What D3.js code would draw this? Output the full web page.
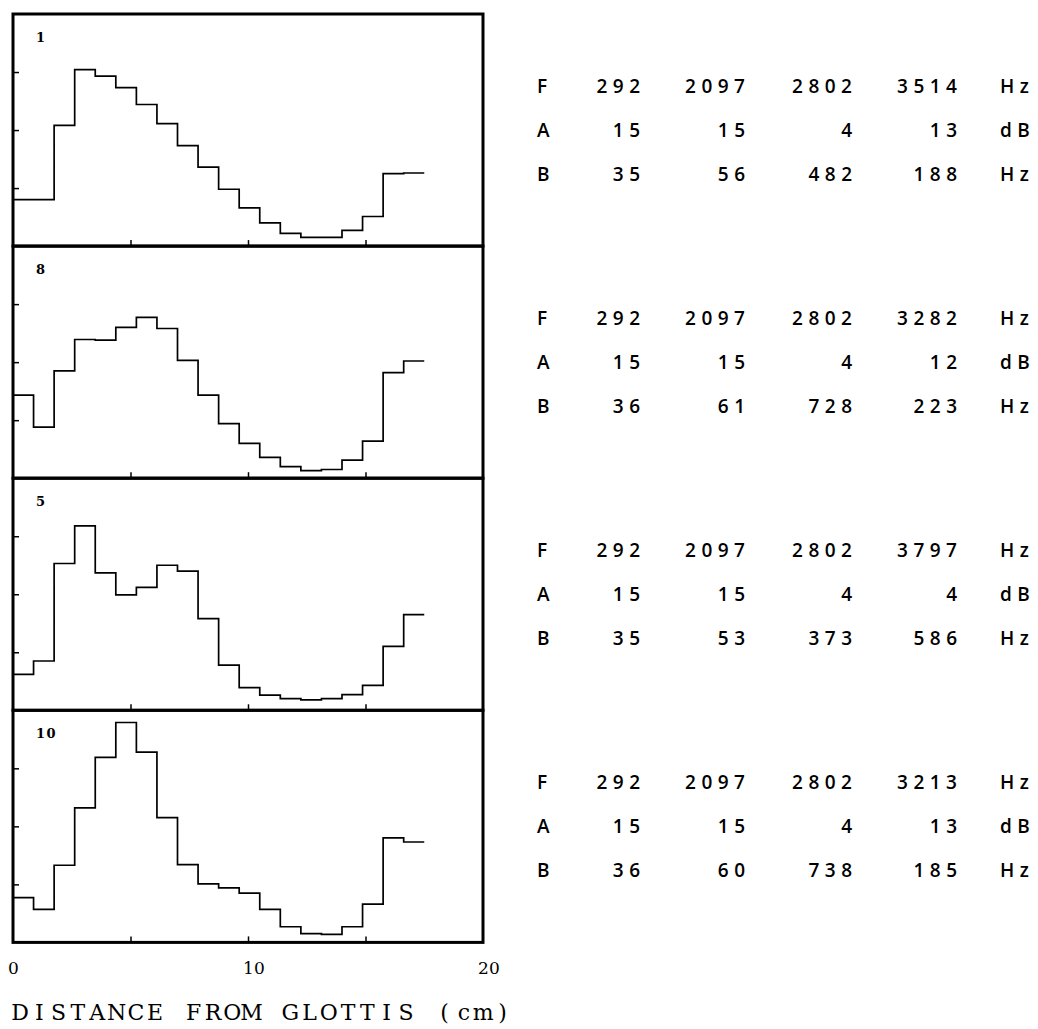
<!DOCTYPE html>
<html>
<head>
<meta charset="utf-8">
<script src="https://cdn.jsdelivr.net/npm/d3@7"></script>
<style>
  body { margin: 0; background: #fff; }
</style>
</head>
<body>
<svg id="chart" width="1038" height="1029"></svg>
<script>
// area function of each vowel, one value per tube section (glottis -> lips)
let panelLabels = ['1', '8', '5', '10']
let area1 = [0.80, 0.80, 2.08, 3.04, 2.93, 2.73, 2.44, 2.11, 1.73, 1.36, 0.98, 0.66, 0.40, 0.22, 0.15, 0.15, 0.27, 0.51, 1.25, 1.26]
let area8 = [1.43, 0.88, 1.85, 2.39, 2.38, 2.60, 2.77, 2.58, 2.03, 1.43, 0.94, 0.60, 0.36, 0.20, 0.13, 0.15, 0.31, 0.64, 1.82, 2.02]
let area5 = [0.62, 0.85, 2.53, 3.18, 2.37, 1.99, 2.12, 2.50, 2.40, 1.58, 0.78, 0.39, 0.26, 0.20, 0.18, 0.20, 0.27, 0.43, 1.10, 1.65]
let area10 = [0.77, 0.57, 1.33, 2.32, 3.19, 3.79, 3.28, 2.15, 1.34, 1.01, 0.94, 0.85, 0.57, 0.27, 0.15, 0.14, 0.27, 0.66, 1.80, 1.73]
let sectionLength = 0.875 // cm

// formant tables
let freqs = [[292, 2097, 2802, 3514], [292, 2097, 2802, 3282], [292, 2097, 2802, 3797], [292, 2097, 2802, 3213]]
let amps = [[15, 15, 4, 13], [15, 15, 4, 12], [15, 15, 4, 4], [15, 15, 4, 13]]
let bands = [[35, 56, 482, 188], [36, 61, 728, 223], [35, 53, 373, 586], [36, 60, 738, 185]]
let rowNames = ['F', 'A', 'B']
let rowUnits = ['Hz', 'dB', 'Hz']

let xTicks = [5, 10, 15]
let xTickLabels = [0, 10, 20]
let yTicks = [1, 2, 3]
let xTitle = 'DISTANCE FROM GLOTTIS (cm)'

let areas = [area1, area8, area5, area10]

let svg = d3.select('#chart')
svg.append('rect').attr('width', 1038).attr('height', 1029).attr('fill', '#fff')

let plotLeft = 13, plotRight = 483, plotTop = 14, panelH = 232.1

let x = d3.scaleLinear().domain([0, 20]).range([plotLeft, plotRight])
let y = d3.scaleLinear().domain([0, 4]).range([panelH, 0])

let line = d3.line()
  .x(d => x(d[0]))
  .y(d => y(d[1]))
  .curve(d3.curveStepAfter)

areas.forEach((area, i) => {
  let g = svg.append('g').attr('transform', `translate(0,${plotTop + i * panelH})`)

  let pts = area.map((v, k) => [k * sectionLength, v])
  pts.push([area.length * sectionLength, area[area.length - 1]])

  g.append('path')
    .datum(pts)
    .attr('d', line)
    .attr('fill', 'none')
    .attr('stroke', '#000')
    .attr('stroke-width', 1.7)

  let yAxis = g.append('g')
    .attr('transform', `translate(${plotLeft},0)`)
    .call(d3.axisLeft(y).tickValues(yTicks).tickSize(-6).tickFormat(''))
  yAxis.select('.domain').remove()
  yAxis.selectAll('line').attr('stroke-width', 1.5)

  let xAxis = g.append('g')
    .attr('transform', `translate(0,${panelH})`)
    .call(d3.axisBottom(x).tickValues(xTicks).tickSize(-6).tickFormat(''))
  xAxis.select('.domain').remove()
  xAxis.selectAll('line').attr('stroke-width', 1.5)

  g.append('rect')
    .attr('x', plotLeft).attr('y', 0)
    .attr('width', plotRight - plotLeft).attr('height', panelH)
    .attr('fill', 'none')
    .attr('stroke', '#000')
    .attr('stroke-width', 3)

  g.append('text')
    .attr('x', 36).attr('y', 28)
    .attr('font-family', 'DejaVu Serif, serif')
    .attr('font-weight', 'bold')
    .attr('font-size', 13)
    .attr('letter-spacing', 1.5)
    .text(panelLabels[i])

  // formant table
  let rows = [freqs[i], amps[i], bands[i]]
  let colRight = [640, 745, 852, 957]
  let ls = 5.5
  rows.forEach((row, r) => {
    let ty = panelH / 2 + (r - 1) * 44
    let txt = (xx, s, anchor) => g.append('text')
      .attr('x', xx).attr('y', ty)
      .attr('dominant-baseline', 'central')
      .attr('text-anchor', anchor)
      .attr('font-family', 'Open Sans, sans-serif')
      .attr('font-weight', 600)
      .attr('font-size', 19)
      .attr('letter-spacing', ls)
      .text(s)
    txt(537, rowNames[r], 'start')
    row.forEach((v, c) => txt(colRight[c] + ls, v, 'end'))
    txt(1000, rowUnits[r], 'start')
  })
})

// distance labels, first digit centred on its tick
let plotBottom = plotTop + 4 * panelH
let lab = svg.append('g')
  .attr('transform', `translate(0,${plotBottom})`)
  .call(d3.axisBottom(x).tickValues(xTickLabels).tickSize(0).tickFormat(d3.format('d')))
lab.select('.domain').remove()
lab.selectAll('text')
  .attr('y', 32)
  .attr('dy', 0)
  .attr('dx', -5.4)
  .attr('text-anchor', 'start')
  .attr('font-family', 'DejaVu Serif, serif')
  .attr('font-size', 17)
  .attr('fill', '#000')

// typewriter-like title: one glyph per fixed cell
let pitch = 19.3
svg.append('text')
  .attr('x', xTitle.split('').map((c, k) => 20 + k * pitch).join(' '))
  .attr('y', 1020)
  .attr('text-anchor', 'middle')
  .attr('font-family', 'DejaVu Serif, serif')
  .attr('font-size', 22)
  .text(xTitle)
</script>
</body>
</html>
